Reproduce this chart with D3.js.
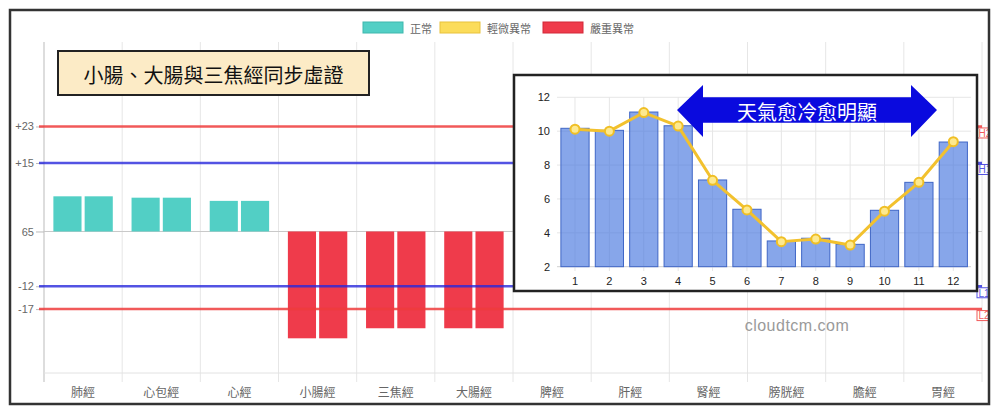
<!DOCTYPE html>
<html>
<head>
<meta charset="utf-8">
<script src="https://cdn.jsdelivr.net/npm/d3@7"></script>
<style>
  body { margin: 0; background: #fff; }
  text { font-family: "Liberation Sans", "Noto Sans CJK TC", sans-serif; }
  .cjk { font-family: "Noto Sans CJK TC", sans-serif; }
</style>
</head>
<body>
<div id="chart"></div>
<script>
// main chart data (offsets from the 65 baseline)
const categories = ["肺經","心包經","心經","小腸經","三焦經","大腸經","脾經","肝經","腎經","膀胱經","膽經","胃經"];
const leftVals  = [7.7, 7.4, 6.7, -23.4, -21.2, -21.2, null, null, null, null, null, null];
const rightVals = [7.7, 7.4, 6.7, -23.4, -21.2, -21.2, null, null, null, null, null, null];
const status    = ["正常","正常","正常","嚴重異常","嚴重異常","嚴重異常", null, null, null, null, null, null];
const legendNames = ["正常","輕微異常","嚴重異常"];

const refValues = [23, 15, -12, -17];
const refTags   = ["H2","H1","L1","L2"];
const yTicks    = [23, 15, 0, -12, -17];

// inset data (monthly)
const months    = ["1","2","3","4","5","6","7","8","9","10","11","12"];
const monthBars = [10.17, 10.05, 11.13, 10.32, 7.12, 5.39, 3.52, 3.68, 3.32, 5.33, 6.98, 9.36];
const monthLine = [10.12, 10.0, 11.1, 10.3, 7.1, 5.35, 3.48, 3.63, 3.28, 5.28, 6.98, 9.38];
const insetTicks = [2, 4, 6, 8, 10, 12];

const W = 1000, H = 418;
const svg = d3.select("#chart").append("svg").attr("width", W).attr("height", H);

svg.append("rect").attr("x", 10).attr("y", 10).attr("width", 979).attr("height", 394)
    .attr("fill", "#fff");

const clip = svg.append("clipPath").attr("id", "frameClip")
    .append("rect").attr("x", 10).attr("y", 10).attr("width", 978).attr("height", 394);
const g = svg.append("g").attr("clip-path", "url(#frameClip)");

const colorOf = d3.scaleOrdinal().domain(legendNames).range(["#52cfc5", "#fbdc5a", "#ef3b4b"]);
const strokeOf = d3.scaleOrdinal().domain(legendNames).range(["#3fb7ad", "#e8c23c", "#d22838"]);

// legend
const legendX = [363, 440, 543];
legendNames.forEach(function(name, i){
    g.append("rect").attr("x", legendX[i]).attr("y", 22).attr("width", 40).attr("height", 11)
        .attr("fill", colorOf(name)).attr("stroke", strokeOf(name)).attr("stroke-width", 1);
    g.append("text").attr("class", "cjk").attr("x", legendX[i] + 47).attr("y", 28)
        .attr("dominant-baseline", "central").attr("font-size", 11).attr("fill", "#666")
        .text(name);
});

// scales
const x = d3.scaleBand().domain(categories).range([44, 982]);
const xInner = d3.scaleBand().domain(["L","R"]).range([x.bandwidth()*0.1, x.bandwidth()*0.9])
    .paddingInner(0.1).paddingOuter(0.05);
const y = d3.scaleLinear().domain([-31, 41.5]).range([373, 42]);

// vertical grid at category boundaries
const bounds = categories.map(c => x(c)).concat([x.range()[1]]);
g.selectAll(".vgrid").data(bounds).join("line")
    .attr("x1", d => d).attr("x2", d => d).attr("y1", 42).attr("y2", 382)
    .attr("stroke", (d, i) => i === 0 ? "#bbb" : "#e6e6e6").attr("stroke-width", 1);
g.append("line").attr("x1", 44).attr("x2", 982).attr("y1", 373).attr("y2", 373)
    .attr("stroke", "#e2e2e2");

// y axis
const yAxis = g.append("g").attr("transform", "translate(44,0)")
    .call(d3.axisLeft(y).tickValues(yTicks).tickSize(8)
        .tickFormat(d => d === 0 ? "65" : (d > 0 ? "+" + d : String(d))));
yAxis.select(".domain").remove();
yAxis.selectAll(".tick line").attr("stroke", "#bbb");
yAxis.selectAll(".tick text").attr("fill", "#666").attr("font-size", 11).attr("x", -10);
g.append("line").attr("x1", 44).attr("x2", 982).attr("y1", y(0)).attr("y2", y(0)).attr("stroke", "#c8c8c8");

// x labels
g.selectAll(".xlab").data(categories).join("text").attr("class", "cjk")
    .attr("x", d => x(d) + x.bandwidth()/2).attr("y", 391)
    .attr("text-anchor", "middle").attr("dominant-baseline", "central")
    .attr("font-size", 12).attr("fill", "#666").text(d => d);

// bars
const barData = [];
categories.forEach(function(c, i){
    if (leftVals[i] != null) barData.push({c: c, side: "L", v: leftVals[i], s: status[i]});
    if (rightVals[i] != null) barData.push({c: c, side: "R", v: rightVals[i], s: status[i]});
});
g.selectAll(".bar").data(barData).join("rect")
    .attr("x", d => x(d.c) + xInner(d.side)).attr("width", xInner.bandwidth())
    .attr("y", d => Math.min(y(0), y(d.v))).attr("height", d => Math.abs(y(d.v) - y(0)))
    .attr("fill", d => colorOf(d.s));

// reference lines
const refColor = ["rgba(238,60,60,0.85)", "rgba(40,40,220,0.8)", "rgba(40,40,220,0.8)", "rgba(238,60,60,0.85)"];
refValues.forEach(function(v, i){
    g.append("line").attr("x1", 39).attr("x2", 982).attr("y1", y(v)).attr("y2", y(v))
        .attr("stroke", refColor[i]).attr("stroke-width", 2.5);
    g.append("rect").attr("x", 977).attr("y", y(v) + 1.5).attr("width", 16).attr("height", 10)
        .attr("fill", "#fff").attr("stroke", refColor[i]).attr("stroke-width", 1);
    g.append("text").attr("x", 978.5).attr("y", y(v) + 6.8).attr("dominant-baseline", "central")
        .attr("font-size", 10).attr("fill", refColor[i]).text(refTags[i]);
});

// title box
g.append("rect").attr("x", 58).attr("y", 51).attr("width", 311).attr("height", 44)
    .attr("fill", "#fcebc6").attr("stroke", "#222").attr("stroke-width", 2);
g.append("text").attr("class", "cjk").attr("x", 213.5).attr("y", 74)
    .attr("text-anchor", "middle").attr("dominant-baseline", "central")
    .attr("font-size", 20).attr("fill", "#111").text("小腸、大腸與三焦經同步虛證");

// watermark
g.append("text").attr("x", 797).attr("y", 325).attr("text-anchor", "middle")
    .attr("dominant-baseline", "central").attr("font-size", 16).attr("fill", "#9a9a9a")
    .attr("letter-spacing", 0.5).text("cloudtcm.com");

// ---------- inset chart ----------
const ins = g.append("g");
ins.append("rect").attr("x", 514).attr("y", 75).attr("width", 463).attr("height", 216)
    .attr("fill", "#fff").attr("stroke", "#222").attr("stroke-width", 2.5);

const ix = d3.scaleBand().domain(months).range([557.8, 970.5]).paddingInner(0.18).paddingOuter(0.09);
const iy = d3.scaleLinear().domain([2, 12]).range([266.7, 97.3]);
const cx = d => ix(d) + ix.bandwidth()/2;

ins.selectAll(".ihg").data(insetTicks).join("line")
    .attr("x1", 557).attr("x2", 971).attr("y1", d => iy(d)).attr("y2", d => iy(d))
    .attr("stroke", d => d === 2 ? "#cfcfcf" : "#e6e6e6");
ins.selectAll(".ivg").data(months).join("line")
    .attr("x1", d => cx(d)).attr("x2", d => cx(d)).attr("y1", 97).attr("y2", 271)
    .attr("stroke", "#e6e6e6");

ins.selectAll(".iyl").data(insetTicks).join("text")
    .attr("x", 550).attr("y", d => iy(d)).attr("text-anchor", "end")
    .attr("dominant-baseline", "central").attr("font-size", 11).attr("fill", "#222").text(d => d);
ins.selectAll(".ixl").data(months).join("text")
    .attr("x", d => cx(d)).attr("y", 281).attr("text-anchor", "middle")
    .attr("dominant-baseline", "central").attr("font-size", 11).attr("fill", "#222").text(d => d);

ins.selectAll(".ibar").data(months).join("rect")
    .attr("x", d => ix(d)).attr("width", ix.bandwidth())
    .attr("y", (d, i) => iy(monthBars[i])).attr("height", (d, i) => iy(2) - iy(monthBars[i]))
    .attr("fill", "rgba(70,118,222,0.65)").attr("stroke", "#3f66c6").attr("stroke-width", 1);

const line = d3.line().x((d, i) => cx(months[i])).y(d => iy(d));
ins.append("path").datum(monthLine).attr("d", line).attr("fill", "none")
    .attr("stroke", "#f2c12e").attr("stroke-width", 3).attr("stroke-linejoin", "round");
ins.selectAll(".ipt").data(monthLine).join("circle")
    .attr("cx", (d, i) => cx(months[i])).attr("cy", d => iy(d)).attr("r", 4.5)
    .attr("fill", "#fde98f").attr("stroke", "#f0bf25").attr("stroke-width", 2);

// double arrow annotation
const ay = 110, x0 = 677, x1 = 937;
const ap = d3.path();
ap.moveTo(x0, ay);
ap.lineTo(x0 + 26, ay - 25);
ap.lineTo(x0 + 26, ay - 12.7);
ap.lineTo(x1 - 26, ay - 12.7);
ap.lineTo(x1 - 26, ay - 25);
ap.lineTo(x1, ay);
ap.lineTo(x1 - 26, ay + 27);
ap.lineTo(x1 - 26, ay + 12.7);
ap.lineTo(x0 + 26, ay + 12.7);
ap.lineTo(x0 + 26, ay + 27);
ap.closePath();
ins.append("path").attr("d", ap.toString()).attr("fill", "#0a0ade");
ins.append("text").attr("class", "cjk").attr("x", 807).attr("y", 111)
    .attr("text-anchor", "middle").attr("dominant-baseline", "central")
    .attr("font-size", 20).attr("fill", "#fff").text("天氣愈冷愈明顯");

// outer frame
svg.append("rect").attr("x", 10).attr("y", 10).attr("width", 979).attr("height", 394)
    .attr("fill", "none").attr("stroke", "#333").attr("stroke-width", 2.5);
</script>
</body>
</html>
